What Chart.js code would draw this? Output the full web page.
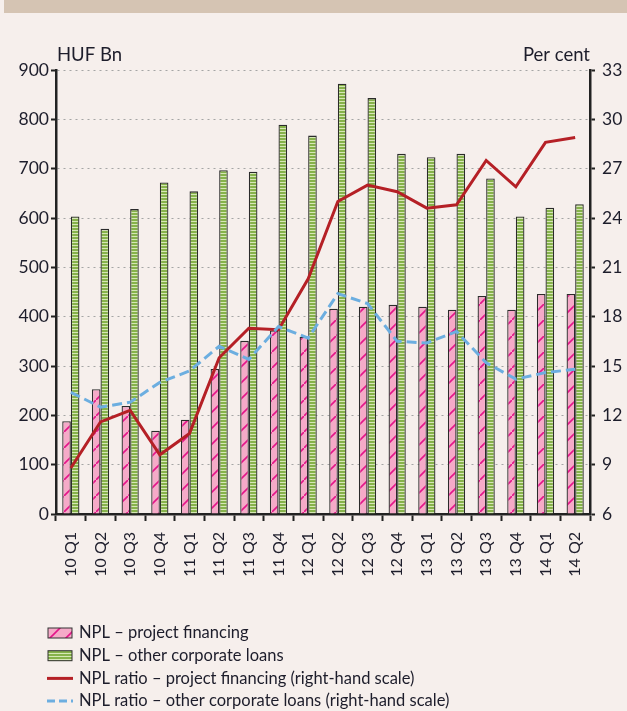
<!DOCTYPE html>
<html>
<head>
<meta charset="utf-8">
<script src="https://cdn.jsdelivr.net/npm/chart.js@4"></script>
<style>
  html, body { margin: 0; padding: 0; background: #f6efec; }
  #wrap { position: relative; width: 627px; height: 711px; }
  #bar { position: absolute; left: 4px; top: 0; width: 623px; height: 13px; background: #d5c4b3; }
</style>
</head>
<body>
<div id="wrap">
  <div id="bar"></div>
  <canvas id="nplChart" width="627" height="711"></canvas>
</div>
<script>
const quarters = ["10 Q1", "10 Q2", "10 Q3", "10 Q4", "11 Q1", "11 Q2", "11 Q3", "11 Q4",
                  "12 Q1", "12 Q2", "12 Q3", "12 Q4", "13 Q1", "13 Q2", "13 Q3", "13 Q4",
                  "14 Q1", "14 Q2"];
const nplProject = [188, 253, 219, 169, 191, 294, 351, 372, 359, 416, 420, 424, 420, 414, 442, 414, 446, 446];
const nplOther = [603, 578, 618, 672, 654, 697, 694, 789, 767, 872, 843, 730, 723, 730, 680, 603, 621, 628];
const ratioProject = [8.8, 11.6, 12.3, 9.6, 10.9, 15.5, 17.3, 17.2, 20.3, 25.0, 26.0, 25.6, 24.6, 24.8, 27.5, 25.9, 28.6, 28.9];
const ratioOther = [13.4, 12.5, 12.8, 14.0, 14.7, 16.2, 15.4, 17.4, 16.7, 19.4, 18.8, 16.5, 16.4, 17.1, 15.2, 14.2, 14.6, 14.8];
const leftTicks = { min: 0, max: 900, step: 100 };
const rightTicks = { min: 6, max: 33, step: 3 };

const FONT = "Lato, 'Open Sans', sans-serif";
const TEXT = "#1d1d2b";

function makePattern(kind) {
    const c = document.createElement("canvas");
    const g = c.getContext("2d");
    if (kind === "hatch") {
        c.width = 16; c.height = 16;
        g.fillStyle = "#f5aac8";
        g.fillRect(0, 0, 16, 16);
        g.strokeStyle = "#e5158a";
        g.lineWidth = 1.6;
        g.beginPath();
        g.moveTo(-2, 18); g.lineTo(18, -2);
        g.stroke();
    } else {
        c.width = 4; c.height = 3;
        g.fillStyle = "#86b24a";
        g.fillRect(0, 0, 4, 3);
        g.fillStyle = "#d6e7b6";
        g.fillRect(0, 2, 4, 1);
    }
    return g.createPattern(c, "repeat");
}

const pinkPattern = makePattern("hatch");
const greenPattern = makePattern("stripe");

const legendItems = [
    { text: "NPL – project financing", kind: "box", fill: pinkPattern },
    { text: "NPL – other corporate loans", kind: "box", fill: greenPattern },
    { text: "NPL ratio – project financing (right-hand scale)", kind: "line", color: "#b52026", dash: [] },
    { text: "NPL ratio – other corporate loans (right-hand scale)", kind: "line", color: "#6caee0", dash: [8, 4] }
];

const extras = {
    id: "extras",
    afterDraw(chart) {
        const ctx = chart.ctx;
        const area = chart.chartArea;
        ctx.save();
        ctx.font = "18.5px " + FONT;
        ctx.fillStyle = TEXT;
        ctx.textBaseline = "middle";
        ctx.textAlign = "left";
        ctx.fillText("HUF Bn", area.left + 1, 55);
        ctx.textAlign = "right";
        ctx.fillText("Per cent", area.right, 55);

        ctx.font = "16.5px " + FONT;
        let y = 633;
        legendItems.forEach(item => {
            if (item.kind === "box") {
                ctx.fillStyle = item.fill;
                ctx.fillRect(48, y - 5, 24, 10);
                ctx.strokeStyle = "#333";
                ctx.lineWidth = 1;
                ctx.strokeRect(48, y - 5, 24, 10);
            } else {
                ctx.strokeStyle = item.color;
                ctx.lineWidth = 3;
                ctx.setLineDash(item.dash);
                ctx.beginPath();
                ctx.moveTo(47, y); ctx.lineTo(73, y);
                ctx.stroke();
                ctx.setLineDash([]);
            }
            ctx.fillStyle = TEXT;
            ctx.textAlign = "left";
            ctx.fillText(item.text, 79, y);
            y += 22.7;
        });
        ctx.restore();
    }
};

const ctx = document.getElementById("nplChart").getContext("2d");
new Chart(ctx, {
    type: "bar",
    data: {
        labels: quarters,
        datasets: [
            {
                type: "line",
                label: "NPL ratio – other corporate loans (right-hand scale)",
                data: ratioOther,
                yAxisID: "yRight",
                borderColor: "#6caee0",
                borderWidth: 3,
                borderDash: [10, 5],
                pointRadius: 0,
                tension: 0,
                order: 0
            },
            {
                type: "line",
                label: "NPL ratio – project financing (right-hand scale)",
                data: ratioProject,
                yAxisID: "yRight",
                borderColor: "#b52026",
                borderWidth: 3,
                pointRadius: 0,
                tension: 0,
                order: 1
            },
            {
                label: "NPL – project financing",
                data: nplProject,
                yAxisID: "yLeft",
                backgroundColor: pinkPattern,
                borderColor: "#2b2b2b",
                borderWidth: 1.3,
                categoryPercentage: 0.58,
                barPercentage: 1,
                order: 2
            },
            {
                label: "NPL – other corporate loans",
                data: nplOther,
                yAxisID: "yLeft",
                backgroundColor: greenPattern,
                borderColor: "#2b2b2b",
                borderWidth: 1.3,
                categoryPercentage: 0.58,
                barPercentage: 1,
                order: 2
            }
        ]
    },
    options: {
        responsive: false,
        animation: false,
        layout: { padding: { top: 70, bottom: 117, left: 0, right: 0 } },
        plugins: { legend: { display: false }, tooltip: { enabled: false } },
        scales: {
            x: {
                afterFit: s => { s.height = 80; },
                grid: { drawOnChartArea: false, drawTicks: true, tickLength: 7, tickColor: "#222", tickWidth: 2, offset: true },
                border: { color: "#222", width: 2.5 },
                ticks: { color: TEXT, font: { family: FONT, size: 16 }, minRotation: 90, maxRotation: 90, autoSkip: false, padding: 11 }
            },
            yLeft: {
                position: "left",
                min: leftTicks.min,
                max: leftTicks.max,
                afterFit: s => { s.width = 56; },
                grid: { color: "#a5a5a5", lineWidth: 1, tickLength: 5, tickColor: "#222", tickWidth: 2 },
                border: { color: "#222", width: 2.5, dash: [2, 4] },
                ticks: { stepSize: leftTicks.step, color: TEXT, font: { family: FONT, size: 17.5 }, padding: 2 }
            },
            yRight: {
                position: "right",
                min: rightTicks.min,
                max: rightTicks.max,
                afterFit: s => { s.width = 37; },
                grid: { drawOnChartArea: false, tickLength: 5, tickColor: "#222", tickWidth: 2 },
                border: { color: "#222", width: 2.5 },
                ticks: { stepSize: rightTicks.step, color: TEXT, font: { family: FONT, size: 17.5 }, padding: 7 }
            }
        }
    },
    plugins: [extras]
});
</script>
</body>
</html>
